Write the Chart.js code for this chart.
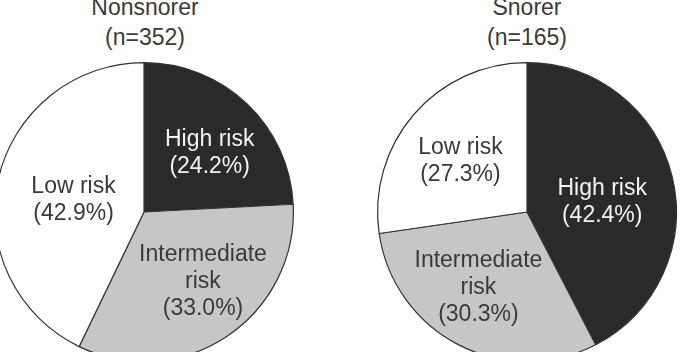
<!DOCTYPE html>
<html lang="en">
<head>
  <meta charset="UTF-8" />
  <title>Risk by snoring status</title>
  <script src="https://cdn.jsdelivr.net/npm/chart.js"></script>
  <style>
    html, body { margin: 0; padding: 0; }
    body {
      width: 681px; height: 352px; overflow: hidden; position: relative;
      background: #fff; font-family: 'Liberation Sans', Arial, sans-serif;
    }
    .title {
      position: absolute; top: -8px; width: 200px; text-align: center;
      font-size: 23px; line-height: 30px; color: #3a3a3a;
    }
    canvas { position: absolute; }
  </style>
</head>
<body>
  <div class="title" style="left:45px">Nonsnorer<br>(n=352)</div>
  <div class="title" style="left:427px">Snorer<br>(n=165)</div>
  <canvas id="nonsnorer" width="320" height="320" style="left:-16px; top:52px"></canvas>
  <canvas id="snorer" width="320" height="320" style="left:367px; top:52px"></canvas>

  <script>
    const categories = [['High risk'], ['Intermediate', 'risk'], ['Low risk']];
    const nonsnorerValues = [24.2, 33.0, 42.9];
    const snorerValues = [42.4, 30.3, 27.3];

    const fills = ['#2a2a2d', '#c6c6c6', '#ffffff'];
    const textColors = ['#f2f2f2', '#3a3a3a', '#3a3a3a'];

    // draws the label inside each slice, along the slice's middle angle
    const sliceLabels = {
      id: 'sliceLabels',
      afterDatasetsDraw(chart, args, opts) {
        const ctx = chart.ctx;
        const meta = chart.getDatasetMeta(0);
        const values = chart.data.datasets[0].data;
        ctx.save();
        ctx.font = '23px "Liberation Sans", Arial, sans-serif';
        ctx.textAlign = 'center';
        ctx.textBaseline = 'alphabetic';
        meta.data.forEach((arc, i) => {
          const mid = (arc.startAngle + arc.endAngle) / 2;
          const r = arc.outerRadius * 0.58;
          const nudge = opts.nudge[i];
          const cx = arc.x + Math.cos(mid) * r + nudge[0];
          const cy = arc.y + Math.sin(mid) * r + nudge[1];
          const lines = categories[i].concat('(' + values[i].toFixed(1) + '%)');
          ctx.fillStyle = textColors[i];
          lines.forEach((line, j) => {
            const y = cy + (j - (lines.length - 1) / 2) * 27 + 8;
            ctx.fillText(line, cx, y);
          });
        });
        ctx.restore();
      }
    };

    function makePie(id, values, nudge) {
      new Chart(document.getElementById(id), {
        type: 'pie',
        data: {
          labels: categories.map(c => c.join(' ')),
          datasets: [{
            data: values,
            backgroundColor: fills,
            borderColor: '#333333',
            borderWidth: 1.2
          }]
        },
        options: {
          responsive: false,
          animation: false,
          events: [],
          layout: { padding: 10 },
          plugins: {
            legend: { display: false },
            tooltip: { enabled: false },
            sliceLabels: { nudge: nudge }
          }
        },
        plugins: [sliceLabels]
      });
    }

    makePie('nonsnorer', nonsnorerValues, [[6, 2], [11, -4], [14, 6]]);
    makePie('snorer', snorerValues, [[-9, 9], [-9, -3], [-1, 4]]);
  </script>
</body>
</html>
